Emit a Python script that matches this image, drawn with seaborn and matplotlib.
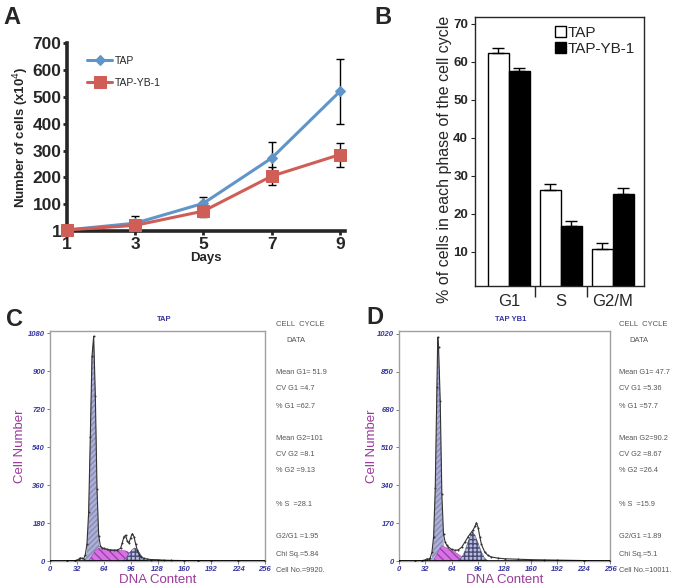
import numpy as np
import pandas as pd
import seaborn as sns
import matplotlib
matplotlib.use('Agg')
import matplotlib.pyplot as plt

# ---- panel A : growth curve
days = [1, 3, 5, 7, 9]
tap_cells = [5, 30, 104, 272, 520]
tap_err = [0, 25, 23, 60, 120]
yb1_cells = [5, 22, 75, 205, 285]
yb1_err = [0, 10, 23, 33, 45]

# ---- panel B : cell cycle phases
phases = ['G1', 'S', 'G2/M']
tap_pct = [62.3, 26.2, 10.7]
tap_pct_err = [1.3, 1.6, 1.7]
yb1_pct = [57.7, 16.8, 25.3]
yb1_pct_err = [0.7, 1.3, 1.4]

# ---- panel C : TAP flow histogram
tap_dna = [0, 20, 30, 34, 36, 38, 40, 42, 44, 46, 48, 50, 52, 54, 56, 58, 60, 62, 64, 68, 72, 76, 80,
           84, 86, 88, 90, 92, 94, 96, 98, 100, 102, 104, 106, 108, 112, 116, 120, 128, 136, 144, 160,
           176, 192, 224, 256]
tap_counts = [0, 0, 2, 8, 15, 12, 10, 30, 80, 230, 590, 970, 1065, 780, 340, 120, 70, 62, 60, 55, 52,
              50, 52, 60, 85, 115, 122, 95, 85, 110, 130, 115, 80, 50, 30, 20, 12, 9, 7, 6, 4, 3, 2, 2,
              1, 1, 0]
tap_g1_x = [42, 44, 46, 48, 50, 52, 54, 56, 58, 60, 62]
tap_g1_y = [3, 40, 200, 570, 960, 1060, 770, 320, 80, 12, 0]
tap_s_x = [46, 50, 54, 58, 64, 72, 80, 88, 92, 96, 100, 104]
tap_s_y = [0, 25, 50, 60, 58, 55, 52, 50, 45, 35, 15, 0]
tap_g2_x = [86, 90, 94, 98, 101, 104, 108, 112, 116]
tap_g2_y = [0, 10, 35, 55, 62, 55, 30, 8, 0]
tap_stats = ['Mean G1= 51.9', 'CV G1 =4.7', '% G1 =62.7', 'Mean G2=101', 'CV G2 =8.1', '% G2 =9.13',
             '% S  =28.1', 'G2/G1 =1.95', 'Chi Sq.=5.84', 'Cell No.=9920.']

# ---- panel D : TAP YB1 flow histogram
yb1_dna = [0, 20, 28, 32, 34, 36, 38, 40, 42, 44, 46, 47, 48, 50, 52, 54, 56, 58, 60, 64, 68, 72, 76,
           80, 84, 86, 88, 90, 92, 94, 96, 98, 100, 104, 108, 112, 120, 128, 144, 160, 176, 192, 224, 256]
yb1_counts = [0, 0, 2, 5, 10, 8, 15, 40, 110, 330, 780, 1005, 960, 720, 300, 120, 85, 70, 62, 52, 48,
              50, 62, 85, 110, 120, 130, 140, 155, 172, 150, 110, 75, 40, 25, 18, 13, 10, 8, 6, 5, 4, 2, 0]
yb1_g1_x = [38, 40, 42, 44, 46, 47, 48, 50, 52, 54, 56, 58]
yb1_g1_y = [0, 10, 70, 300, 760, 990, 940, 700, 260, 60, 10, 0]
yb1_s_x = [42, 46, 50, 52, 56, 60, 64, 68, 72, 76, 80, 86]
yb1_s_y = [0, 30, 60, 68, 62, 55, 48, 40, 30, 20, 10, 0]
yb1_g2_x = [72, 76, 80, 84, 88, 90, 92, 96, 100, 104, 108]
yb1_g2_y = [0, 15, 45, 90, 120, 125, 118, 80, 40, 12, 0]
yb1_stats = ['Mean G1= 47.7', 'CV G1 =5.36', '% G1 =57.7', 'Mean G2=90.2', 'CV G2 =8.67', '% G2 =26.4',
             '% S  =15.9', 'G2/G1 =1.89', 'Chi Sq.=5.1', 'Cell No.=10011.']

stat_rows = [373, 389, 406, 438, 455, 471, 504, 537, 554, 570]

sns.set_style('ticks')
plt.rcParams['font.family'] = ['Liberation Sans', 'DejaVu Sans']

W, H = 685, 586
fig = plt.figure(figsize=(W / 100, H / 100), dpi=100)


def box(l, t, r, b):
    # pixel box -> figure fraction rect
    return [l / W, 1 - b / H, (r - l) / W, (b - t) / H]


blue = '#5f95c8'
red = '#cf5e57'

# ================= A
axA = fig.add_axes(box(67, 43, 345, 231))
axA.errorbar(days, tap_cells, yerr=tap_err, fmt='none', ecolor='black', elinewidth=1, capsize=3, zorder=1)
axA.errorbar(days, yb1_cells, yerr=yb1_err, fmt='none', ecolor='black', elinewidth=1, capsize=3, zorder=1)
sns.lineplot(x=days, y=tap_cells, color=blue, marker='D', markersize=5, markeredgecolor=blue, lw=2.2,
             label='TAP', ax=axA, clip_on=False, zorder=3)
sns.lineplot(x=days, y=yb1_cells, color=red, marker='s', markersize=8, markeredgecolor=red, lw=2.2,
             label='TAP-YB-1', ax=axA, clip_on=False, zorder=3)
axA.set_xlim(1, 9.15)
axA.set_ylim(1, 700)
axA.set_xticks(days)
axA.set_yticks([1, 100, 200, 300, 400, 500, 600, 700])
sns.despine(ax=axA)
for s in ['left', 'bottom']:
    axA.spines[s].set_linewidth(2.6)
axA.tick_params(width=2, length=3, labelsize=12.5, pad=1)
for t in axA.get_xticklabels() + axA.get_yticklabels():
    t.set_fontweight('bold')
axA.set_xlabel('Days', fontsize=9.5, fontweight='bold', labelpad=0)
axA.set_ylabel('Number of cells (x10$^4$)', fontsize=9.5, fontweight='bold', labelpad=1)
axA.legend(loc='upper left', bbox_to_anchor=(0.04, 0.98), frameon=False, fontsize=7.5,
           handlelength=2.4, labelspacing=1.1, handletextpad=0.2)

# ================= B
axB = fig.add_axes(box(475, 17, 644, 286))
dfB = pd.DataFrame({'phase': phases * 2, 'pct': tap_pct + yb1_pct,
                    'line': ['TAP'] * 3 + ['TAP-YB-1'] * 3})
sns.barplot(data=dfB, x='phase', y='pct', hue='line', palette={'TAP': 'white', 'TAP-YB-1': 'black'},
            edgecolor='black', linewidth=1, width=0.8, errorbar=None, ax=axB)
bars = sorted([p for p in axB.patches if p.get_height() > 0], key=lambda p: p.get_x())
errs = [e for pair in zip(tap_pct_err, yb1_pct_err) for e in pair]
bx = [p.get_x() + p.get_width() / 2 for p in bars]
bh = [p.get_height() for p in bars]
axB.errorbar(bx, bh, yerr=[[0] * len(errs), errs], fmt='none', ecolor='black', elinewidth=1, capsize=4)
axB.set_xlim(-0.65, 2.6)
axB.set_ylim(1, 71.8)
axB.set_yticks([10, 20, 30, 40, 50, 60, 70])
axB.tick_params(axis='y', length=3, labelsize=9.5, pad=2)
for t in axB.get_yticklabels():
    t.set_fontweight('bold')
axB.tick_params(axis='x', which='major', length=0, labelsize=12, pad=6)
axB.set_xticks([0.5, 1.5], minor=True)
axB.tick_params(axis='x', which='minor', length=8, width=1, direction='out')
axB.set_xlabel('')
axB.set_ylabel('')
for s in axB.spines.values():
    s.set_linewidth(1)
h, l = axB.get_legend_handles_labels()
axB.legend(h, l, loc='upper right', frameon=False, fontsize=11, handlelength=0.7, handleheight=0.7,
           handletextpad=0.1, labelspacing=0.1, borderaxespad=0.2)
fig.text(444 / W, 1 - 159 / H, '% of cells in each phase of the cell cycle', rotation=90,
         ha='center', va='center', fontsize=11.5)

# ================= C / D
tick_blue = '#3535a0'
purple = '#9a3a9a'
grey_txt = '#555555'


def flow_panel(rect, dna, counts, g1x, g1y, sx, sy, g2x, g2y, ymax, ytop, title, stats, tx, ylx):
    ax = fig.add_axes(rect)
    ax.fill_between(g1x, g1y, color='#aab0da', edgecolor='#8c8cb0', hatch='//////', lw=0.3, zorder=1)
    ax.fill_between(sx, sy, color='#d872e2', edgecolor='#9a40b0', hatch='\\\\\\\\', lw=0.3, zorder=2)
    ax.fill_between(g2x, g2y, color='#b8bed8', edgecolor='#4a4a78', hatch='++++', lw=0.3, zorder=3)
    sns.lineplot(x=dna, y=counts, color='#333333', lw=0.8, marker='.', markersize=1.4,
                 markeredgecolor='#333333', ax=ax, zorder=4)
    ax.axhline(0, color='black', lw=1.2, zorder=5)
    ax.set_xlim(0, 256)
    ax.set_ylim(0, ytop)
    ax.set_xticks(range(0, 257, 32))
    ax.set_yticks(np.linspace(0, ymax, 7))
    ax.set_yticklabels([str(int(v)) for v in np.linspace(0, ymax, 7)])
    ax.tick_params(axis='both', length=2, width=0.6, color='#666666', labelsize=5.5,
                   labelcolor=tick_blue, pad=1.5)
    for t in ax.get_xticklabels() + ax.get_yticklabels():
        t.set_fontweight('bold')
        t.set_fontstyle('italic')
    for s in ax.spines.values():
        s.set_color('#a0a0a0')
        s.set_linewidth(1)
    ax.set_xlabel('DNA Content', color=purple, fontsize=9.5, labelpad=1)
    ax.set_ylabel('Cell Number', color=purple, fontsize=9.5)
    ax.yaxis.set_label_coords(ylx, 0.5)
    ax.text(0.53, 1.035, title, transform=ax.transAxes, ha='center', va='bottom', fontsize=5.5,
            color=tick_blue, fontweight='bold')
    fig.text(tx / W, 1 - 324 / H, 'CELL  CYCLE', fontsize=5.5, color=grey_txt, va='center')
    fig.text((tx + 10) / W, 1 - 341 / H, 'DATA', fontsize=5.5, color=grey_txt, va='center')
    for row, s in zip(stat_rows, stats):
        fig.text(tx / W, 1 - row / H, s, fontsize=5.3, color=grey_txt, va='center')
    return ax


flow_panel(box(50, 331, 265, 561), tap_dna, tap_counts, tap_g1_x, tap_g1_y, tap_s_x, tap_s_y,
           tap_g2_x, tap_g2_y, 1080, 1090, 'TAP', tap_stats, 276, -0.11)
flow_panel(box(399, 331, 610, 561), yb1_dna, yb1_counts, yb1_g1_x, yb1_g1_y, yb1_s_x, yb1_s_y,
           yb1_g2_x, yb1_g2_y, 1020, 1033, 'TAP YB1', yb1_stats, 619, -0.10)

# panel letters
for x, y, s in [(3, 17, 'A'), (374, 17, 'B'), (6, 320, 'C'), (366, 318, 'D')]:
    fig.text(x / W, 1 - y / H, s, fontsize=17, fontweight='bold', va='center', ha='left')

fig.savefig('out.png', dpi=100)
